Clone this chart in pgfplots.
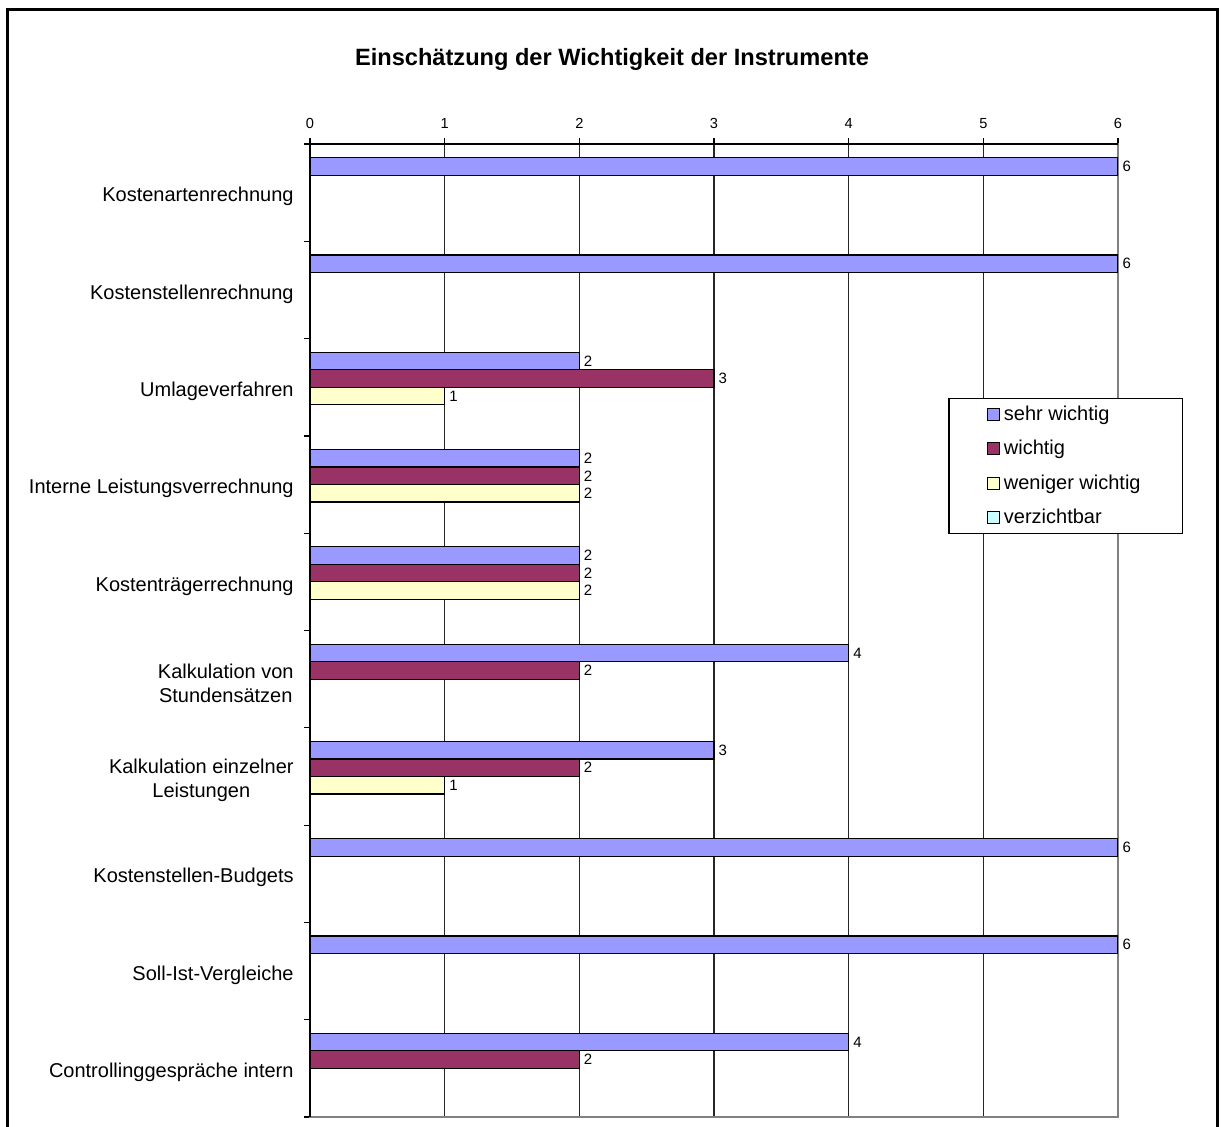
\documentclass[border=0pt]{standalone}
\usepackage{pgfplots}
\pgfplotsset{compat=1.18}
\usepackage{fontspec}
\setmainfont{Liberation Sans}
\definecolor{c1}{HTML}{9999FF}
\definecolor{c2}{HTML}{993366}
\definecolor{c3}{HTML}{FFFFCC}
\definecolor{c4}{HTML}{CCFFFF}
\begin{document}
\begin{tikzpicture}
\useasboundingbox (0,0) rectangle (610.5pt,-563pt);
\draw[line width=1.5pt] (3.75pt,-580pt) -- (3.75pt,-4.5pt) -- (608.75pt,-4.5pt) -- (608.75pt,-580pt);
\node[font=\bfseries\fontsize{11.8}{14}\selectfont] at (306pt,-29.5pt) {Einschätzung der Wichtigkeit der Instrumente};
\begin{axis}[
  at={(155pt,-72pt)}, anchor=north west,
  scale only axis, width=404pt, height=486.5pt,
  xbar=0pt, bar width=8.75pt,
  xmin=0, xmax=6, ymin=-0.5, ymax=9.5, y dir=reverse,
  xtick={0,...,6}, xtick pos=right, xticklabel pos=right,
  xticklabel style={font=\fontsize{7.3}{8}\selectfont, yshift=1pt},
  /pgf/number format/assume math mode=true,
  ytick={-0.5,0.5,...,9.5}, yticklabels={}, ytick pos=left,
  extra y ticks={0,...,9},
  extra y tick labels={Kostenartenrechnung, Kostenstellenrechnung, Umlageverfahren, Interne Leistungsverrechnung, Kostenträgerrechnung, {Kalkulation von\\Stundensätzen}, {Kalkulation einzelner\\Leistungen}, Kostenstellen-Budgets, Soll-Ist-Vergleiche, Controllinggespräche intern},
  extra y tick style={major tick length=0pt, yticklabel style={font=\fontsize{10}{12}\selectfont, align=center, inner xsep=0pt, xshift=-8pt, yshift=-2pt}},
  tick align=outside, major tick length=3pt,
  tick style={black, line width=0.6pt},
  xmajorgrids, major x grid style={black!85, line width=0.6pt},
  axis line style={draw=gray, line width=0.8pt},
  nodes near coords={\pgfmathfloatifflags{\pgfplotspointmeta}{0}{}{\pgfmathprintnumber{\pgfplotspointmeta}}},
  every node near coord/.append style={font=\fontsize{7.5}{8}\selectfont, anchor=west, inner xsep=2pt},
  legend style={at={(axis description cs:0.79,0.739)}, anchor=north west, draw=black, line width=0.6pt,
    font=\fontsize{10}{12}\selectfont, row sep=4.5pt, inner xsep=19pt, inner ysep=1.5pt},
  legend cell align=left,
  myleg/.style={legend image code/.code={\draw[##1,draw=black,line width=0.5pt] (0pt,-3pt) rectangle (6pt,3pt);}},
]
\addplot[fill=c1, draw=black, line width=0.6pt, myleg, bar shift=13.125pt] coordinates {(6,0) (6,1) (2,2) (2,3) (2,4) (4,5) (3,6) (6,7) (6,8) (4,9)};
\addplot[fill=c2, draw=black, line width=0.6pt, myleg, bar shift=4.375pt] coordinates {(0,0) (0,1) (3,2) (2,3) (2,4) (2,5) (2,6) (0,7) (0,8) (2,9)};
\addplot[fill=c3, draw=black, line width=0.6pt, myleg, bar shift=-4.375pt] coordinates {(0,0) (0,1) (1,2) (2,3) (2,4) (0,5) (1,6) (0,7) (0,8) (0,9)};
\addplot[fill=c4, draw=black, line width=0.6pt, myleg, bar shift=-13.125pt] coordinates {(0,0) (0,1) (0,2) (0,3) (0,4) (0,5) (0,6) (0,7) (0,8) (0,9)};
\legend{sehr wichtig, wichtig, weniger wichtig, verzichtbar}
\end{axis}
\draw[black, line width=0.8pt] (155pt,-558.5pt) -- (155pt,-72pt) -- (559pt,-72pt);
\end{tikzpicture}
\end{document}
